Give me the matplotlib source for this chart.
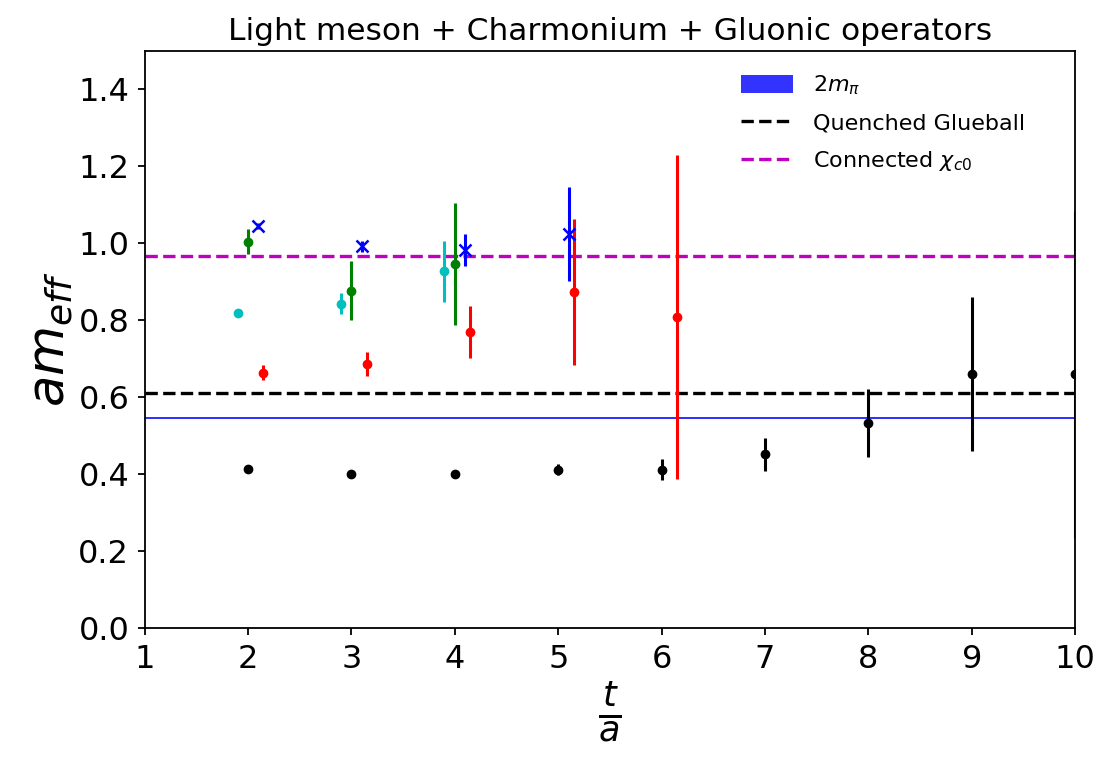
import numpy as np
import matplotlib
matplotlib.use("Agg")
import matplotlib.pyplot as plt

# light meson (black)
t_light = [2, 3, 4, 5, 6, 7, 8, 9, 10]
m_light = [0.414, 0.402, 0.401, 0.412, 0.412, 0.452, 0.534, 0.660, 0.660]
e_light = [0.006, 0.006, 0.006, 0.014, 0.028, 0.043, 0.088, 0.200, 0.425]

# cyan
t_cyan = [1.9, 2.9, 3.9]
m_cyan = [0.819, 0.843, 0.927]
e_cyan = [0.006, 0.027, 0.080]

# green
t_green = [2.0, 3.0, 4.0]
m_green = [1.004, 0.877, 0.946]
e_green = [0.032, 0.077, 0.158]

# blue crosses
t_blue = [2.1, 3.1, 4.1, 5.1]
m_blue = [1.046, 0.992, 0.982, 1.025]
e_blue = [0.008, 0.015, 0.042, 0.122]

# red
t_red = [2.15, 3.15, 4.15, 5.15, 6.15]
m_red = [0.664, 0.686, 0.770, 0.874, 0.809]
e_red = [0.020, 0.031, 0.068, 0.190, 0.420]

two_mpi = 0.547
two_mpi_err = 0.0028
glueball = 0.612
chi_c0 = 0.966

fig = plt.figure(figsize=(11.12, 7.7), dpi=100)
ax = fig.add_axes([0.130, 0.184, 0.837, 0.750])

ax.axhspan(two_mpi - two_mpi_err, two_mpi + two_mpi_err, color='blue', alpha=0.8, lw=0, label=r'$2m_{\pi}$')
ax.axhline(glueball, color='k', ls='--', lw=2.4, label='Quenched Glueball')
ax.axhline(chi_c0, color='m', ls='--', lw=2.4, label=r'Connected $\chi_{c0}$')

ax.errorbar(t_light, m_light, yerr=e_light, fmt='o', color='k', ms=6, elinewidth=2.2)
ax.errorbar(t_cyan, m_cyan, yerr=e_cyan, fmt='o', color='c', ms=6, elinewidth=2.2)
ax.errorbar(t_green, m_green, yerr=e_green, fmt='o', color='g', ms=6, elinewidth=2.2)
ax.errorbar(t_blue, m_blue, yerr=e_blue, fmt='x', color='b', ms=8.5, mew=1.8, elinewidth=2.2)
ax.errorbar(t_red, m_red, yerr=e_red, fmt='o', color='r', ms=6, elinewidth=2.2)

ax.set_xlim(1, 10)
ax.set_ylim(0, 1.5)
ax.set_xticks(range(1, 11))
ax.set_yticks(np.arange(0, 1.41, 0.2))
ax.tick_params(labelsize=23, width=1.3, length=5, pad=6)
for s in ax.spines.values():
    s.set_linewidth(1.3)
ax.set_title('Light meson + Charmonium + Gluonic operators', fontsize=22.5, pad=8)
ax.set_xlabel(r'$\frac{t}{a}$', fontsize=36)
ax.set_ylabel(r'$am_{eff}$', fontsize=37, labelpad=2)
ax.legend(loc='upper right', bbox_to_anchor=(0.968, 0.995), frameon=False, fontsize=16,
          handlelength=2.34, handletextpad=0.9, labelspacing=0.7, handleheight=0.85)

fig.savefig('out.png', dpi=100)
